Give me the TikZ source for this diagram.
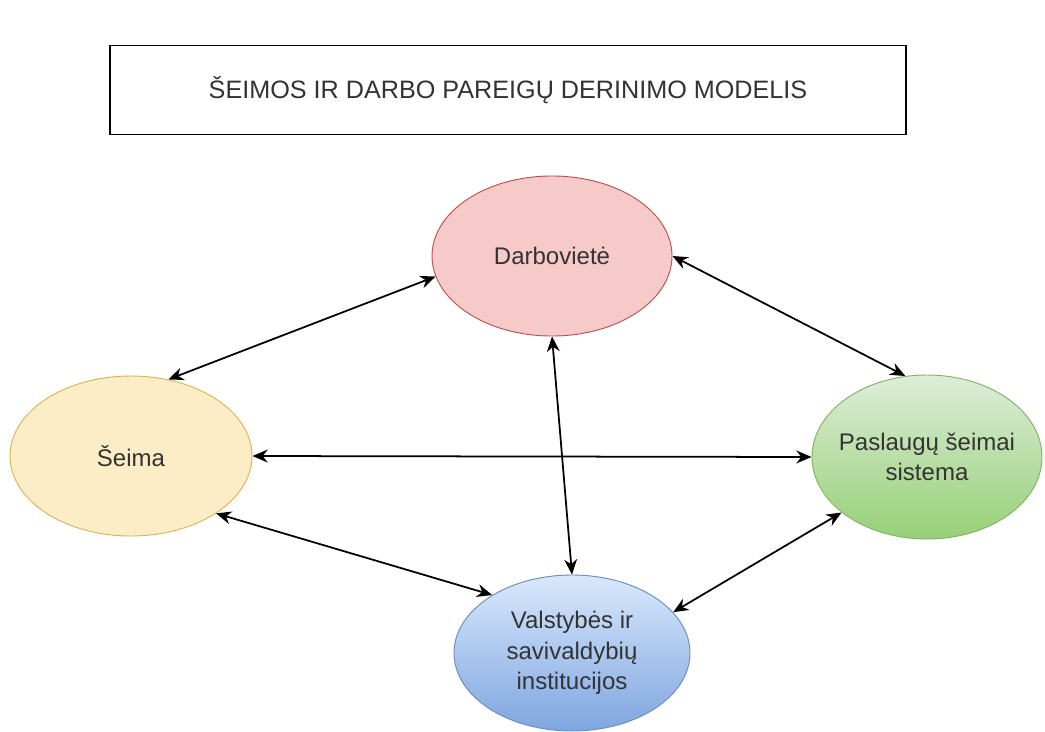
\documentclass[tikz,border=0pt]{standalone}
\usepackage{fontspec}
\setmainfont{Liberation Sans}
\usetikzlibrary{arrows.meta,shapes.geometric}
\definecolor{pinkfill}{HTML}{F6CAC8}
\definecolor{pinkline}{HTML}{B85450}
\definecolor{yelfill}{HTML}{FCEDC6}
\definecolor{yelline}{HTML}{D6B656}
\definecolor{grtop}{HTML}{DDEDD8}
\definecolor{grbot}{HTML}{97D077}
\definecolor{grline}{HTML}{82B366}
\definecolor{bltop}{HTML}{DAE8FC}
\definecolor{blbot}{HTML}{7EA6E0}
\definecolor{blline}{HTML}{6C8EBF}
\definecolor{txt}{HTML}{333333}
\tikzset{
  bubble/.style={ellipse, inner sep=0pt, line width=0.8pt, align=center,
    text=txt, font=\fontsize{20.5}{26}\selectfont},
  link/.style={line width=1.5pt, {Stealth[length=13pt,width=11pt]}-{Stealth[length=13pt,width=11pt]}},
  titlebox/.style={draw=black, line width=0.9pt, text=txt, font=\fontsize{21.5}{26}\selectfont,
    minimum width=796*0.03cm, minimum height=89*0.03cm, inner sep=0pt}
}
\begin{document}
\begin{tikzpicture}[x=0.03cm,y=-0.03cm]
\useasboundingbox (0,0) rectangle (1045,731);
\fill[white] (0,0) rectangle (1045,731);
\node[titlebox] (title) at (508,90) {ŠEIMOS IR DARBO PAREIGŲ DERINIMO MODELIS};
\node[bubble, draw=pinkline, fill=pinkfill, minimum width=240*0.03cm, minimum height=160*0.03cm] (D) at (552,256) {Darbovietė};
\node[bubble, draw=yelline, fill=yelfill, minimum width=242*0.03cm, minimum height=160*0.03cm] (S) at (131,456) {Šeima};
\node[bubble, draw=grline, top color=grtop, bottom color=grbot, inner xsep=-16pt, inner ysep=-4pt, minimum width=230*0.03cm, minimum height=164*0.03cm] (P) at (927,457) {Paslaugų šeimai\\sistema};
\node[bubble, draw=blline, top color=bltop, bottom color=blbot, inner sep=-4pt, minimum width=236*0.03cm, minimum height=156*0.03cm] (V) at (572,653) {Valstybės ir\\savivaldybių\\institucijos};
\draw[link] (D.190) -- (S.64);
\draw[link] (D.0) -- (P.105);
\draw[link] (D.south) -- (V.north);
\draw[link] (S.east) -- (P.west);
\draw[link] (S.-34) -- (V.144);
\draw[link] (P.213) -- (V.22);
\end{tikzpicture}
\end{document}
